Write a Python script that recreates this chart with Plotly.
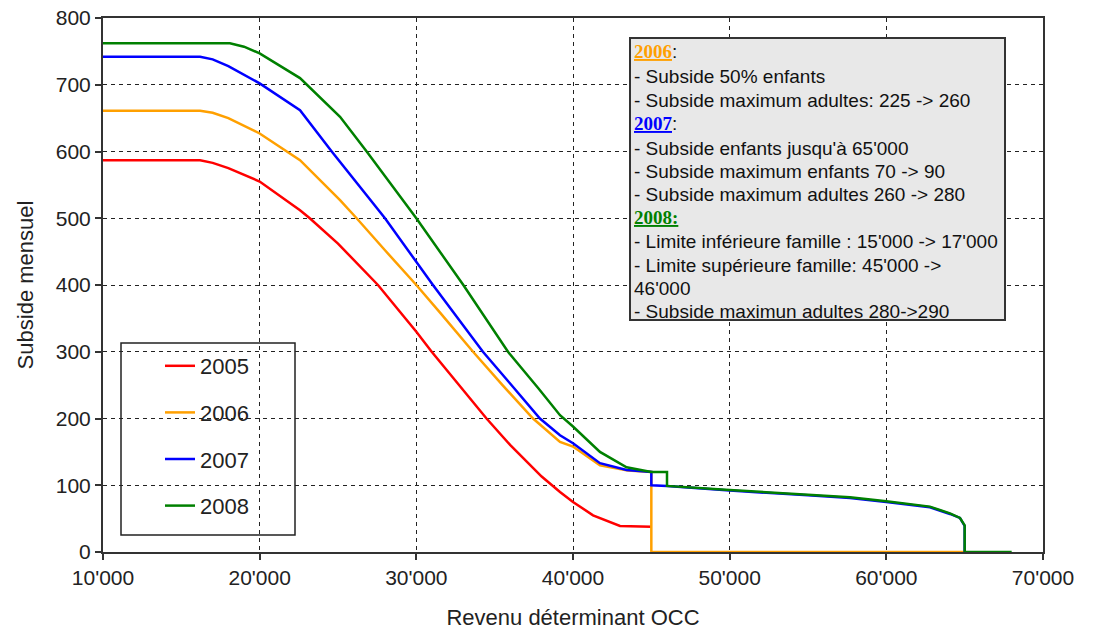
import plotly.graph_objects as go

# ---- data ----
x_2005 = [10000, 16200, 17000, 18000, 20000, 22575, 23200, 25000, 27550, 30000, 30980, 33000,
          34480, 36000, 38000, 39170, 40000, 41280, 43000, 45000]
y_2005 = [587, 587, 583, 575, 555, 512, 500, 462, 400, 330, 300, 243,
          200, 160, 113, 90, 75, 55, 39, 38]

x_2006 = [10000, 16200, 17000, 18000, 20000, 21700, 22575, 25130, 26190, 28000, 30000, 31500,
          33620, 35500, 37450, 39170, 40000, 41720, 43500, 45000, 45000, 65000]
y_2006 = [661, 661, 658, 650, 627, 600, 587, 527, 500, 452, 400, 359,
          300, 250, 200, 165, 158, 130, 122, 120, 0, 0]

x_2007 = [10000, 16200, 17000, 18000, 20000, 22575, 24600, 28000, 31060, 34250, 36000, 37890,
          39170, 40000, 41720, 43420, 45000, 45000, 46000, 50000, 55000, 57680, 60000, 62780,
          64060, 64700, 65000, 65000]
y_2007 = [742, 742, 738, 728, 702, 662, 600, 500, 400, 300, 252, 200,
          175, 163, 133, 123, 120, 100, 99, 92, 85, 81, 75, 67,
          57, 51, 39, 0]

x_2008 = [10000, 18100, 19000, 20000, 22575, 25130, 26830, 30000, 33000, 35850, 37800, 39170,
          40000, 41720, 43420, 45000, 46000, 46000, 50000, 55000, 57680, 60000, 62780, 64060,
          64700, 65000, 65000, 68000]
y_2008 = [762, 762, 757, 747, 710, 652, 600, 500, 400, 300, 245, 205,
          188, 150, 127, 120, 120, 99, 93, 86, 82, 76, 68, 58,
          51, 40, 0, 0]

series_names = ["2005", "2006", "2007", "2008"]
series_colors = ["#FF0000", "#FFA000", "#0000FF", "#008000"]
series_x = [x_2005, x_2006, x_2007, x_2008]
series_y = [y_2005, y_2006, y_2007, y_2008]

x_tickvals = [10000, 20000, 30000, 40000, 50000, 60000, 70000]
x_ticktext = ["10'000", "20'000", "30'000", "40'000", "50'000", "60'000", "70'000"]
y_tickvals = [0, 100, 200, 300, 400, 500, 600, 700, 800]

note_lines = [
    '<span style="font-family:Liberation Serif;color:#FFA000"><b><u>2006</u></b></span>:',
    "- Subside 50% enfants",
    "- Subside maximum adultes: 225 -> 260",
    '<span style="font-family:Liberation Serif;color:#0000FF"><b><u>2007</u></b></span>:',
    "- Subside enfants jusqu'à 65'000",
    "- Subside maximum enfants 70 -> 90",
    "- Subside maximum adultes 260 -> 280",
    '<span style="font-family:Liberation Serif;color:#008000"><b><u>2008:</u></b></span>',
    "- Limite inférieure famille : 15'000 -> 17'000",
    "- Limite supérieure famille: 45'000 ->",
    "46'000",
    "- Subside maximun adultes 280->290",
]
note_line_px = [51.7, 76.7, 100, 123.3, 148.3, 171.7, 194.3, 217.7, 241.7, 265, 288.3, 311]

# ---- layout geometry (pixels) ----
W, H = 1095, 630
L, R, T, B = 103, 52, 18, 78
pw, ph = W - L - R, H - T - B


def px_x(p):
    return (p - L) / pw


def px_y(p):
    return (H - B - p) / ph


FONT = "Liberation Sans, Arial, sans-serif"

fig = go.Figure()
for i, (name, col, xs, ys) in enumerate(zip(series_names, series_colors, series_x, series_y)):
    fig.add_trace(go.Scatter(
        x=xs, y=ys, mode="lines", name=name, legendgroup=name,
        line=dict(color=col, width=2.5), cliponaxis=False,
    ))

shapes = [
    # legend frame
    dict(type="rect", xref="paper", yref="paper",
         x0=px_x(121), x1=px_x(295), y0=px_y(535), y1=px_y(343),
         line=dict(color="#222", width=1.5), fillcolor="white", layer="between"),
    # note box
    dict(type="rect", xref="paper", yref="paper",
         x0=px_x(630), x1=px_x(1005), y0=px_y(320), y1=px_y(38),
         line=dict(color="#333", width=2), fillcolor="#E8E8E8", layer="above"),
]

annotations = []
for txt, yp in zip(note_lines, note_line_px):
    annotations.append(dict(
        x=px_x(632), y=px_y(yp), xref="paper", yref="paper",
        xanchor="left", yanchor="middle", text=txt, showarrow=False,
        font=dict(family=FONT, size=19, color="#111"),
    ))

fig.update_layout(
    width=W, height=H,
    margin=dict(l=L, r=R, t=T, b=B),
    paper_bgcolor="white", plot_bgcolor="white",
    font=dict(family=FONT, size=22, color="#222"),
    showlegend=True,
    legend=dict(
        x=px_x(160), y=px_y(345), xanchor="left", yanchor="top",
        bgcolor="rgba(0,0,0,0)", borderwidth=0,
        traceorder="grouped", tracegroupgap=15,
        font=dict(family=FONT, size=22, color="#222"),
    ),
    shapes=shapes,
    annotations=annotations,
    xaxis=dict(
        range=[10000, 70000], tickvals=x_tickvals, ticktext=x_ticktext,
        showline=True, linecolor="#333", linewidth=2, mirror=True,
        ticks="outside", ticklen=6, tickcolor="#333", tickwidth=1.5,
        showgrid=True, gridcolor="#222", gridwidth=1.3, griddash="4px,4px",
        zeroline=False, automargin=False,
        tickfont=dict(size=21),
        title=dict(text="Revenu déterminant OCC", font=dict(size=22), standoff=22),
    ),
    yaxis=dict(
        range=[0, 800], tickvals=y_tickvals,
        showline=True, linecolor="#333", linewidth=2, mirror=True,
        ticks="outside", ticklen=6, tickcolor="#333", tickwidth=1.5,
        showgrid=True, gridcolor="#222", gridwidth=1.3, griddash="4px,4px",
        zeroline=False, automargin=False,
        tickfont=dict(size=21),
        title=dict(text="Subside mensuel", font=dict(size=22), standoff=16),
    ),
)

fig.write_html(
    "out.html",
    config={"displayModeBar": False},
    post_script="document.body.style.margin='0';document.body.style.overflow='hidden';",
)
